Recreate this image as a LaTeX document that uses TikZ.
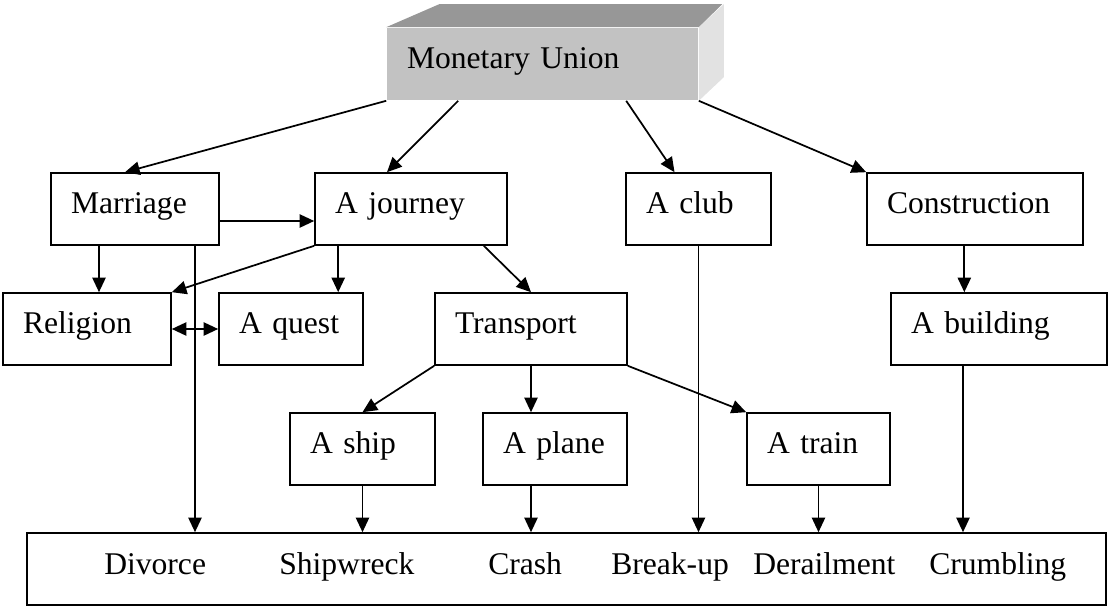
\documentclass[tikz,border=0pt]{standalone}
\usepackage{fontspec}
\setmainfont{Liberation Serif}
\usetikzlibrary{arrows.meta,calc}

\definecolor{unionfront}{HTML}{C2C2C2}
\definecolor{uniontop}{HTML}{979797}
\definecolor{unionside}{HTML}{E2E2E2}

\begin{document}
\begin{tikzpicture}[
  x=0.75pt, y=-0.75pt,
  font=\fontsize{23.7pt}{28pt}\selectfont,
  box/.style={draw, line width=1.2pt, align=left, inner xsep=15pt, inner ysep=0pt, minimum height=54pt, text height=13pt, text depth=6pt, text width=#1},
  result/.style={anchor=base west, inner sep=0pt},
  arr/.style={-{Triangle[length=11pt, width=10pt]}, line width=1.3pt},
  biarr/.style={{Triangle[length=11pt, width=10pt]}-{Triangle[length=11pt, width=10pt]}, line width=1.3pt}]

\useasboundingbox (0,0) rectangle (1108,607);

% 3D title block
\node[box=203.25pt, draw=none, fill=unionfront] (union) at (542.5,64) {Monetary Union};
\fill[uniontop] (union.north west) -- ++(53,-23) -- ++(283,0) -- (union.north east) -- cycle;
\fill[unionside] (union.north east) -- ++(25,-23) -- ++(0,73) -- (union.south east) -- cycle;

% metaphors
\node[box=96pt] (marriage) at (135,209) {Marriage};
\node[box=114pt] (journey) at (411,209) {A journey};
\node[box=78.75pt] (club) at (698.5,209) {A club};
\node[box=132pt] (construction) at (975,209) {Construction};

\node[box=96pt] (religion) at (87,329) {Religion};
\node[box=78pt] (quest) at (291,329) {A quest};
\node[box=114pt] (transport) at (531,329) {Transport};
\node[box=132pt] (building) at (999,329) {A building};

\node[box=78.75pt] (ship) at (362.5,449) {A ship};
\node[box=78pt] (plane) at (555,449) {A plane};
\node[box=77.25pt] (train) at (818.5,449) {A train};

% outcomes
\node[draw, line width=1.2pt, minimum width=809.25pt, minimum height=54pt, inner sep=0pt] (outcome) at (566.5,569) {};
\node[result] (divorce) at (104,574) {Divorce};
\node[result] (shipwreck) at (279,574) {Shipwreck};
\node[result] (crash) at (488,574) {Crash};
\node[result] (breakup) at (611,574) {Break-up};
\node[result] (derailment) at (753,574) {Derailment};
\node[result] (crumbling) at (929,574) {Crumbling};

\draw[arr] (union.south west) -- ([xshift=-7.5pt]marriage.north);
\draw[arr] ([xshift=54pt]union.south west) -- ([xshift=-18pt]journey.north);
\draw[arr] ([xshift=180pt]union.south west) -- ([xshift=-18pt]club.north);
\draw[arr] (union.south east) -- (construction.north west);

\draw[arr] ([yshift=-9pt]marriage.east) -- ([yshift=-9pt]journey.west);
\draw[arr] ([xshift=-27pt]marriage.south) -- ([xshift=-27pt]marriage.south |- religion.north);
\draw[arr] ([xshift=45pt]marriage.south) -- ([xshift=45pt]marriage.south |- outcome.north);
\draw[arr] (journey.south west) -- (religion.north east);
\draw[arr] ([xshift=18pt]journey.south west) -- ([xshift=18pt]journey.south west |- quest.north);
\draw[arr] ([xshift=-18pt]journey.south east) -- (transport.north);
\draw[biarr] (religion) -- (quest);
\draw[arr] (club.south) -- (club.south |- outcome.north);
\draw[arr] ([xshift=-8pt]construction.south) -- ([xshift=-8pt]construction.south |- building.north);
\draw[arr] ([xshift=-27pt]building.south) -- ([xshift=-27pt]building.south |- outcome.north);

\draw[arr] (transport.south west) -- (ship.north);
\draw[arr] (transport.south) -- (transport.south |- plane.north);
\draw[arr] (transport.south east) -- (train.north west);
\draw[arr] (ship.south) -- (ship.south |- outcome.north);
\draw[arr] (transport.south |- plane.south) -- (transport.south |- outcome.north);
\draw[arr] (train.south) -- (train.south |- outcome.north);
\end{tikzpicture}
\end{document}
